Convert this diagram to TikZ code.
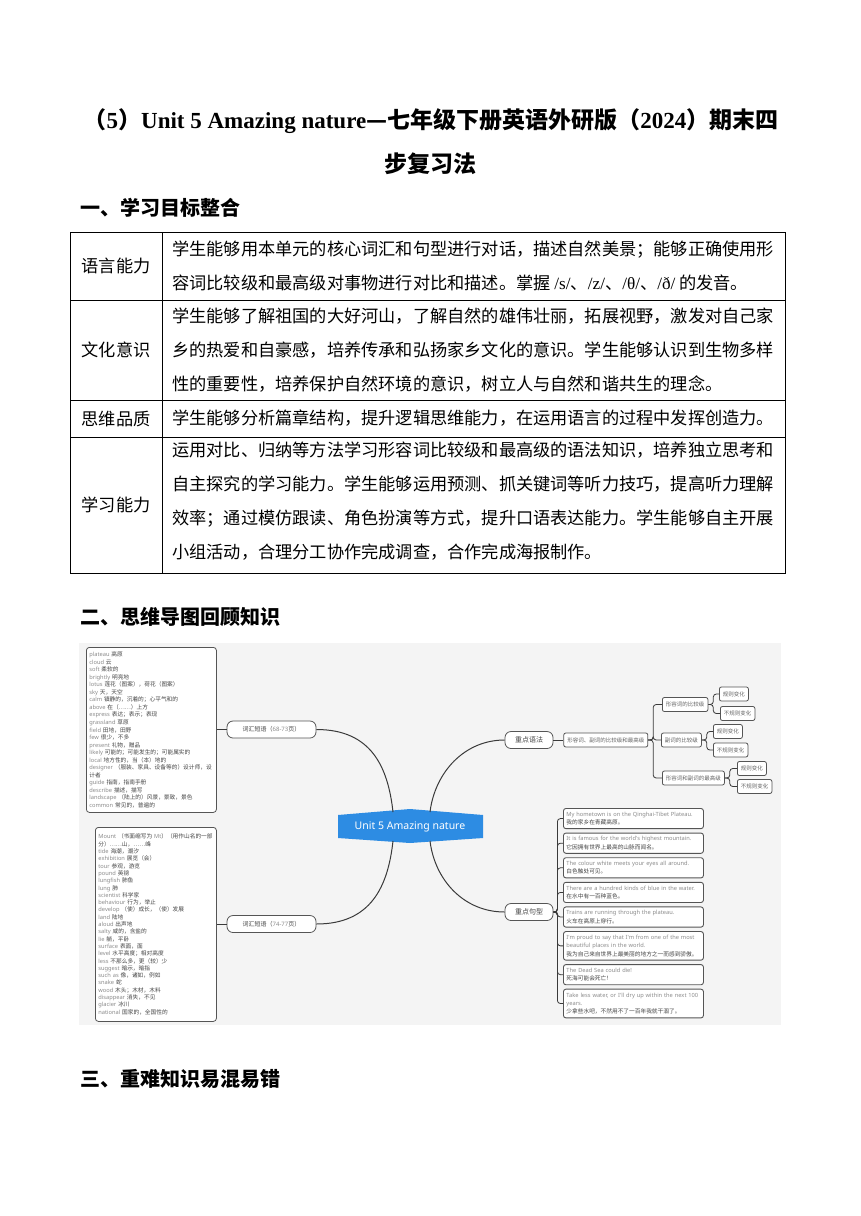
\documentclass[tikz,border=0pt]{standalone}
\usepackage{fontspec}
\setmainfont{Noto Sans CJK SC}
\newfontfamily\latin{Liberation Serif}
\newfontfamily\msans{Noto Sans}
\usetikzlibrary{positioning}
\definecolor{mapbg}{HTML}{F4F4F4}
\definecolor{rootblue}{HTML}{2D8CE3}
\definecolor{mapline}{HTML}{3A3A3A}
\definecolor{boxline}{HTML}{555555}
\definecolor{engray}{HTML}{8C8C8C}
\definecolor{zhgray}{HTML}{454545}
\newcommand{\en}[1]{{\latin #1}}
\newcommand{\vw}[1]{{\msans\color{engray}#1}}
\tikzset{
  title/.style={font=\fontsize{23}{28}\selectfont\bfseries,inner sep=0pt},
  secthead/.style={font=\fontsize{20}{24}\selectfont\bfseries,anchor=west,inner sep=0pt},
  celllab/.style={font=\fontsize{17.2}{34}\selectfont,inner sep=0pt},
  celltext/.style={font=\fontsize{17.2}{34}\selectfont,align=left,anchor=west,inner sep=0pt},
  grid/.style={line width=0.7pt},
  % mind map
  root/.style={text=white,font=\msans\fontsize{10.5}{12}\selectfont,inner sep=0pt},
  topic/.style={draw=boxline,fill=white,rounded corners=6pt,line width=0.8pt,
    minimum height=17pt,inner xsep=5pt,text=zhgray},
  gbox/.style={draw=boxline,fill=white,rounded corners=2pt,line width=0.8pt,
    font=\fontsize{5.5}{7}\selectfont,text=black!60,inner xsep=3.5pt,
    minimum height=14pt,anchor=west},
  vocab/.style={draw=boxline,fill=white,rounded corners=3pt,line width=0.8pt,
    align=left,anchor=north west,text=zhgray,inner xsep=3pt},
  sent/.style={draw=boxline,fill=white,rounded corners=2.5pt,line width=0.9pt,
    align=left,text width=134pt,inner xsep=3pt,inner ysep=3.5pt,text=zhgray,
    font=\fontsize{5.7}{8.4}\selectfont},
  branch/.style={draw=mapline,line width=1pt},
  link/.style={draw=mapline,line width=0.8pt},
  bracket/.style={draw=mapline,line width=0.8pt,rounded corners=3pt}
}
\begin{document}
\begin{tikzpicture}[x=1pt,y=1pt]
\useasboundingbox (0,0) rectangle (860,-1216);
% title
\node[title] (t1) at (431,-121) {（\en{5}）\en{Unit 5 Amazing nature}—七年级下册英语外研版（\en{2024}）期末四};
\node[title] (t2) at (430,-164) {步复习法};

% part one: table
\node[secthead] (h1) at (80,-208) {一、学习目标整合};
\draw[grid] (70,-232) rectangle (785,-573);
\draw[grid] (162,-232) -- (162,-573);
\foreach \y in {300,400,437}
  \draw[grid] (70,-\y) -- (785,-\y);
\node[celllab] (c1) at (116,-266) {语言能力};
\node[celllab] (c2) at (116,-350) {文化意识};
\node[celllab] (c3) at (116,-418.5) {思维品质};
\node[celllab] (c4) at (116,-505) {学习能力};
\node[celltext] (d1) at (172,-266) {学生能够用本单元的核心词汇和句型进行对话，描述自然美景；能够正确使用形\\容词比较级和最高级对事物进行对比和描述。掌握 \en{/s/}、\en{/z/}、\en{/θ/}、\en{/ð/} 的发音。};
\node[celltext] (d2) at (172,-350) {学生能够了解祖国的大好河山，了解自然的雄伟壮丽，拓展视野，激发对自己家\\乡的热爱和自豪感，培养传承和弘扬家乡文化的意识。学生能够认识到生物多样\\性的重要性，培养保护自然环境的意识，树立人与自然和谐共生的理念。};
\node[celltext] (d3) at (172,-418.5) {学生能够分析篇章结构，提升逻辑思维能力，在运用语言的过程中发挥创造力。};
\node[celltext] (d4) at (172,-501) {运用对比、归纳等方法学习形容词比较级和最高级的语法知识，培养独立思考和\\自主探究的学习能力。学生能够运用预测、抓关键词等听力技巧，提高听力理解\\效率；通过模仿跟读、角色扮演等方式，提升口语表达能力。学生能够自主开展\\小组活动，合理分工协作完成调查，合作完成海报制作。};

% part two: mind map
\node[secthead] (h2) at (80,-617) {二、思维导图回顾知识};
\fill[mapbg] (79,-643) rectangle (781,-1025);
\fill[rootblue] (338,-815) -- (410,-809) -- (483,-815) -- (483,-838) -- (410,-843) -- (338,-838) -- cycle;
\node[root] (root) at (410,-826.5) {Unit 5 Amazing nature};
\coordinate (rootnw) at (393,-812);
\coordinate (rootne) at (430,-812);
\coordinate (rootsw) at (393,-841);
\coordinate (rootse) at (430,-841);

\node[topic,minimum width=89pt,font=\fontsize{6}{7}\selectfont] (l1) at (271.5,-729.5) {词汇短语（\vw{68-73}页）};
\node[topic,minimum width=89pt,font=\fontsize{6}{7}\selectfont] (l2) at (271.5,-924) {词汇短语（\vw{74-77}页）};
\node[topic,minimum width=48pt,font=\fontsize{7}{8}\selectfont] (g) at (529,-740) {重点语法};
\node[topic,minimum width=48pt,font=\fontsize{7}{8}\selectfont] (s) at (529,-912) {重点句型};

\draw[branch] (rootnw) .. controls +(-5,45) and +(55,0) .. (l1.east);
\draw[branch] (rootsw) .. controls +(-5,-45) and +(55,0) .. (l2.east);
\draw[branch] (rootne) .. controls +(5,40) and +(-40,0) .. (g.west);
\draw[branch] (rootse) .. controls +(5,-40) and +(-40,0) .. (s.west);

% word lists
\node[vocab,text width=124pt,minimum height=165pt,font=\fontsize{5.7}{7.55}\selectfont] (v1) at (86,-647) {%
\vw{plateau} 高原\\
\vw{cloud} 云\\
\vw{soft} 柔软的\\
\vw{brightly} 明亮地\\
\vw{lotus} 莲花（图案），荷花（图案）\\
\vw{sky} 天，天空\\
\vw{calm} 镇静的，沉着的；心平气和的\\
\vw{above} 在（……）上方\\
\vw{express} 表达；表示；表现\\
\vw{grassland} 草原\\
\vw{field} 田地，田野\\
\vw{few} 很少，不多\\
\vw{present} 礼物，赠品\\
\vw{likely} 可能的；可能发生的；可能属实的\\
\vw{local} 地方性的，当（本）地的\\
\vw{designer} （服装、家具、设备等的）设计师，设\\
计者\\
\vw{guide} 指南，指南手册\\
\vw{describe} 描述，描写\\
\vw{landscape} （陆上的）风景，景致，景色\\
\vw{common} 常见的，普遍的};
\node[vocab,text width=115pt,minimum height=194pt,font=\fontsize{5.7}{7.3}\selectfont] (v2) at (95,-827) {%
\vw{Mount} （书面缩写为 \vw{Mt}）（用作山名的一部\\
分）……山，……峰\\
\vw{tide} 海潮，潮汐\\
\vw{exhibition} 展览（会）\\
\vw{tour} 参观，游览\\
\vw{pound} 英镑\\
\vw{lungfish} 肺鱼\\
\vw{lung} 肺\\
\vw{scientist} 科学家\\
\vw{behaviour} 行为，举止\\
\vw{develop} （使）成长，（使）发展\\
\vw{land} 陆地\\
\vw{aloud} 出声地\\
\vw{salty} 咸的，含盐的\\
\vw{lie} 躺，平卧\\
\vw{surface} 表面，面\\
\vw{level} 水平高度；相对高度\\
\vw{less} 不那么多，更（较）少\\
\vw{suggest} 暗示，暗指\\
\vw{such as} 像，诸如，例如\\
\vw{snake} 蛇\\
\vw{wood} 木头；木材，木料\\
\vw{disappear} 消失，不见\\
\vw{glacier} 冰川\\
\vw{national} 国家的，全国性的};
\draw[link] (l1.west) -- (l1.west -| v1.east);
\draw[link] (l2.west) -- (l2.west -| v2.east);

% grammar branch
\node[gbox,right=10pt of g] (gm) {形容词、副词的比较级和最高级};
\node[gbox] (ga) at (662,-704.5) {形容词的比较级};
\node[gbox] (gb) at (661,-740) {副词的比较级};
\node[gbox] (gc) at (662,-778) {形容词和副词的最高级};
\node[gbox] (ga1) at (719,-694) {规则变化};
\node[gbox] (ga2) at (720,-713.5) {不规则变化};
\node[gbox] (gb1) at (713,-731.5) {规则变化};
\node[gbox] (gb2) at (713,-750) {不规则变化};
\node[gbox] (gc1) at (737,-768.5) {规则变化};
\node[gbox] (gc2) at (737,-786.5) {不规则变化};
\draw[link] (g.east) -- (gm.west);
\foreach \c in {ga,gb,gc}
  \draw[bracket] (gm.east) -- ++(5,0) |- (\c.west);
\foreach \p/\c in {ga/ga1,ga/ga2,gb/gb1,gb/gb2,gc/gc1,gc/gc2}
  \draw[bracket] (\p.east) -- ++(5,0) |- (\c.west);

% sentence branch
\node[sent,anchor=north west] (s1) at (563,-808) {\vw{My hometown is on the Qinghai-Tibet Plateau.}\\我的家乡在青藏高原。};
\node[sent,below=3.5pt of s1] (s2) {\vw{It is famous for the world's highest mountain.}\\它因拥有世界上最高的山脉而闻名。};
\node[sent,below=3.5pt of s2] (s3) {\vw{The colour white meets your eyes all around.}\\白色触处可见。};
\node[sent,below=3.5pt of s3] (s4) {\vw{There are a hundred kinds of blue in the water.}\\在水中有一百种蓝色。};
\node[sent,below=3.5pt of s4] (s5) {\vw{Trains are running through the plateau.}\\火车在高原上穿行。};
\node[sent,below=3.5pt of s5] (s6) {\vw{I'm proud to say that I'm from one of the most}\\\vw{beautiful places in the world.}\\我为自己来自世界上最美丽的地方之一而感到骄傲。};
\node[sent,below=3.5pt of s6] (s7) {\vw{The Dead Sea could die!}\\死海可能会死亡！};
\node[sent,below=3.5pt of s7] (s8) {\vw{Take less water, or I'll dry up within the next 100}\\\vw{years.}\\少拿些水吧，不然用不了一百年我就干涸了。};
\foreach \c in {s1,s2,s3,s4,s5,s6,s7,s8}
  \draw[bracket] (s.east) -- ++(4,0) |- (\c.west);

% part three
\node[secthead] (h3) at (80,-1079) {三、重难知识易混易错};
\end{tikzpicture}
\end{document}
